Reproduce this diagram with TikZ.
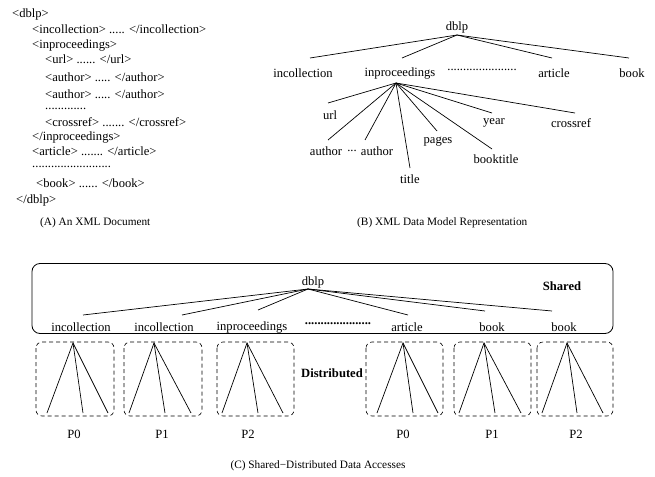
\documentclass[tikz,border=0pt]{standalone}
\usepackage{fontspec}
\setmainfont{Liberation Serif}
\newcommand\fsA{\fontsize{12.6}{14}\selectfont}
\newcommand\fsC{\fontsize{11.3}{13}\selectfont}
\begin{document}
\begin{tikzpicture}[x=1pt,y=-1pt,
  txt/.style={font=\fsA, inner sep=0pt},
  xml/.style={font=\fsA, inner sep=0pt, anchor=west},
  captxt/.style={font=\fsC, inner sep=0pt},
  edge/.style={line width=0.7pt},
  dbox/.style={draw, dashed, dash pattern=on 4pt off 3pt, rounded corners=6pt, line width=0.6pt},
  sbox/.style={draw, rounded corners=8pt, line width=0.8pt}]
\useasboundingbox (0,0) rectangle (655,476);

% ---------- (A) XML document ----------
\node[xml] (a1) at (12,14) {<dblp>};
\node[xml] (a2) at (32,29) {<incollection> ..... </incollection>};
\node[xml] (a3) at (32,45) {<inproceedings>};
\node[xml] (a4) at (45,59) {<url> ...... </url>};
\node[xml] (a5) at (45,77) {<author> ..... </author>};
\node[xml] (a6) at (45,94) {<author> ..... </author>};
\node[xml] (a7) at (45,109) {.............};
\node[xml] (a8) at (45,122) {<crossref> ....... </crossref>};
\node[xml] (a9) at (32,137) {</inproceedings>};
\node[xml] (a10) at (32,151) {<article> ....... </article>};
\node[xml] (a11) at (32,167) {.........................};
\node[xml] (a12) at (36,183) {<book> ...... </book>};
\node[xml] (a13) at (16,200) {</dblp>};
\node[captxt, anchor=west] (capA) at (40,223) {(A) An XML Document};

% ---------- (B) XML data model ----------
\node[txt] (bdblp) at (457,27) {dblp};
\coordinate (broot) at (457,35);
\node[txt] (binc) at (303,73) {incollection};
\node[txt] (binp) at (400,73) {inproceedings};
\node[txt] (bdots) at (482,70) {......................};
\node[txt] (bart) at (554,73) {article};
\node[txt] (bbook) at (632,73) {book};
\coordinate (tinc) at (310,58);
\coordinate (tinp) at (402,58);
\coordinate (tart) at (552,58);
\coordinate (tbook) at (629,58);
\draw[edge] (broot) -- (tinc);
\draw[edge] (broot) -- (tinp);
\draw[edge] (broot) -- (tart);
\draw[edge] (broot) -- (tbook);

\coordinate (hub) at (396,83);
\node[txt] (burl) at (330,115) {url};
\node[txt] (bau1) at (326,151) {author};
\node[txt] (bdd) at (352,151) {...};
\node[txt] (bau2) at (377,151) {author};
\node[txt] (btitle) at (410,179) {title};
\node[txt] (bpages) at (438,142) {pages};
\node[txt] (bbt) at (496,159) {booktitle};
\node[txt] (byear) at (494,123) {year};
\node[txt] (bcr) at (571,123) {crossref};
\coordinate (eurl) at (328,103);
\coordinate (eau1) at (328,140);
\coordinate (eau2) at (365,140);
\coordinate (etitle) at (410,168);
\coordinate (epages) at (437,131);
\coordinate (ebt) at (492,149);
\coordinate (eyear) at (492,113);
\coordinate (ecr) at (575,113);
\foreach \e in {eurl,eau1,eau2,etitle,epages,ebt,eyear,ecr}
  \draw[edge] (hub) -- (\e);
\node[captxt, anchor=west] (capB) at (357,223) {(B) XML Data Model Representation};

% ---------- (C) Shared-distributed ----------
\node[sbox, minimum width=581pt, minimum height=70pt, inner sep=0pt] (shared) at (322.5,298.5) {};
\node[txt] (cdblp) at (313,282) {dblp};
\coordinate (croot) at (308,289);
\node[txt, font=\fsA\bfseries] (cshared) at (562,286) {Shared};
\node[txt] (c1) at (81,327) {incollection};
\node[txt] (c2) at (164,327) {incollection};
\node[txt] (c3) at (252,327) {inproceedings};
\node[txt, font=\fsA\bfseries] (cdots) at (338,324) {.....................};
\node[txt] (c4) at (407,327) {article};
\node[txt] (c5) at (492,327) {book};
\node[txt] (c6) at (564,327) {book};
\coordinate (t1) at (83,315);
\coordinate (t2) at (182,315);
\coordinate (t3) at (258,310);
\coordinate (t4) at (408,315);
\coordinate (t5) at (485,311);
\coordinate (t6) at (552,311);
\foreach \t in {t1,t2,t3,t4,t5,t6}
  \draw[edge] (croot) -- (\t);

% dashed boxes: left, right, apex x, end xs
\foreach \i/\l/\r/\ax/\ea/\eb/\ec in {1/36/114/73/47/83/108, 2/124/202/154/129/165/191, 3/217/294/247/222/258/283, 4/366/443/403/377/413/438, 5/454/531/484/459/495/521, 6/537/613/567/542/577/603}{
  \path[dbox] (\l,342) rectangle (\r,416);
  \coordinate (ap\i) at (\ax,343);
  \coordinate (ea\i) at (\ea,413);
  \coordinate (eb\i) at (\eb,413);
  \coordinate (ec\i) at (\ec,413);
  \draw[edge] (ea\i) -- (ap\i) -- (ec\i);
  \draw[edge] (ap\i) -- (eb\i);
}
\node[txt, font=\fsA\bfseries] (cdist) at (332,373) {Distributed};
\node[txt] (p1) at (74,434) {P0};
\node[txt] (p2) at (162,434) {P1};
\node[txt] (p3) at (248,434) {P2};
\node[txt] (p4) at (403,434) {P0};
\node[txt] (p5) at (492,434) {P1};
\node[txt] (p6) at (576,434) {P2};
\node[captxt] (capC) at (318,466) {(C) Shared−Distributed Data Accesses};
\end{tikzpicture}
\end{document}
